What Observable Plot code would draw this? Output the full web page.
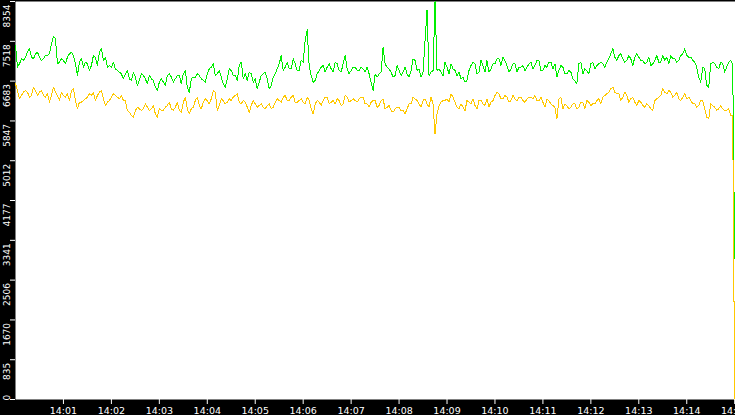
<!DOCTYPE html>
<html><head><meta charset="utf-8">
<script src="https://cdn.jsdelivr.net/npm/d3@7"></script>
<script src="https://cdn.jsdelivr.net/npm/@observablehq/plot@0.6"></script>
<style>html,body{margin:0;padding:0;background:#000;overflow:hidden}</style>
</head><body><div id="chart"></div>
<script>
// readings every 5 s from 14:00:00 (A) and the readings 2.5 s after each of them (B)
const startTime = Date.UTC(2024, 0, 1, 14, 0, 0);
const stepSeconds = 5;

const greenA = [
  7431, 7046, 7116, 7291, 7186, 7256, 7186, 7151, 7221, 7466, 7571, 7081, 7116, 7186, 7291, 7046, 7081, 6976, 7046, 7011, 7186, 7291, 7116, 6976, 6976, 6941, 6871, 6731, 6906, 6696, 6766, 6696, 6801, 6626, 6731, 6556, 6661, 6661, 6801, 6766, 6731, 6801, 6836, 6556, 6731,
  6766, 6801, 6696, 6836, 6976, 6801, 6906, 6626, 6731, 6906, 6801, 7011, 6731, 6696, 6836, 6731, 6661, 6836, 6731, 6591, 6836, 7046, 6906, 7081, 6941, 7046, 6906, 7081, 7760, 6801, 6696, 6906, 7011, 6976, 6941, 7081, 6906, 7046, 6941, 6906, 6976, 6906, 6941, 6976, 6661,
  6835, 6835, 7395, 6975, 6870, 6800, 6905, 6870, 6835, 6905, 7115, 6940, 6870, 8179, 6870, 8354, 6940, 6800, 6975, 7045, 6905, 6870, 6765, 6695, 7010, 7045, 6870, 7010, 7115, 6940, 7045, 7150, 7185, 7010, 6940, 7045, 6975, 7010, 6975, 7080, 7010, 7115, 6905, 6975, 7080,
  7046, 6906, 6976, 6836, 6871, 6696, 7046, 6836, 6906, 7046, 6941, 7046, 7046, 7081, 7256, 7186, 7221, 7151, 7116, 7151, 7186, 7186, 7116, 7081, 7011, 7116, 7081, 7221, 7186, 7221, 7151, 7116, 7256, 7221, 7186, 7081, 6766, 6976, 6591, 7046, 7046, 6941, 7046, 6976, 7116
];
const greenB = [
  6976, 7151, 7186, 7361, 7151, 7291, 7116, 7221, 7256, 7620, 7046, 7151, 7046, 7256, 7221, 6801, 7151, 7081, 6906, 7221, 7011, 7361, 7186, 7011, 7081, 6906, 6836, 6836, 6731, 6871, 6591, 6836, 6731, 6801, 6696, 6486, 6731, 6591, 6836, 6661, 6801, 6626, 6906, 6451, 6766,
  6836, 6731, 6661, 6941, 7046, 6836, 6766, 6556, 6941, 6801, 6696, 7081, 6836, 6871, 6661, 6521, 6801, 6871, 6521, 6766, 6941, 7221, 6976, 6941, 7151, 6906, 7116, 7536, 7011, 6661, 6836, 6976, 6871, 7046, 6871, 7046, 6871, 7221, 6836, 6976, 6906, 6976, 6871, 6836, 6486,
  6765, 6870, 7045, 6940, 6765, 7010, 6800, 6975, 6765, 7150, 6905, 6765, 7535, 6800, 6905, 6905, 6870, 7080, 6835, 6940, 6800, 6730, 6660, 6905, 7080, 6835, 7115, 6870, 6870, 7045, 7150, 7010, 7115, 6870, 7045, 6870, 6975, 6905, 7045, 6940, 7115, 6905, 7010, 7080, 6940,
  6766, 7011, 6836, 6906, 6731, 6626, 7081, 6941, 6836, 7081, 7011, 7081, 6976, 7151, 7361, 7116, 7256, 7081, 7221, 7011, 7256, 7116, 7046, 7186, 7046, 7221, 7081, 7116, 7046, 7151, 7081, 7221, 7361, 7186, 7116, 6976, 6661, 6941, 6556, 7081, 6976, 7081, 6871, 7081, 7046
];
const orangeA = [
  6626, 6311, 6451, 6451, 6381, 6486, 6451, 6381, 6416, 6381, 6451, 6276, 6381, 6416, 6486, 6276, 6241, 6276, 6346, 6381, 6276, 6451, 6311, 6241, 6346, 6381, 6311, 6276, 6066, 5961, 6066, 6101, 6101, 6136, 6101, 5996, 6101, 6066, 6171, 6101, 6136, 6066, 6241, 6101, 6101,
  6276, 6171, 6241, 6276, 6311, 6451, 6171, 6276, 6241, 6276, 6381, 6241, 6276, 6136, 6171, 6206, 6171, 6136, 6171, 6101, 6241, 6276, 6346, 6276, 6346, 6241, 6276, 6241, 6346, 6101, 6206, 6241, 6276, 6346, 6241, 6206, 6276, 6206, 6346, 6276, 6276, 6311, 6346, 6206, 6241,
  6275, 6170, 6310, 6135, 6065, 6100, 6135, 6065, 6100, 6205, 6310, 6205, 6275, 6205, 6345, 5575, 6170, 6275, 6310, 6415, 6240, 6100, 6135, 6275, 6205, 6170, 6275, 6205, 6310, 6240, 6380, 6415, 6310, 6345, 6275, 6310, 6345, 6275, 6310, 6345, 6380, 6275, 6240, 6310, 6205,
  6136, 6311, 6101, 6171, 6136, 6206, 6136, 6241, 6276, 6171, 6206, 6311, 6346, 6416, 6521, 6451, 6416, 6346, 6381, 6311, 6241, 6276, 6171, 6206, 6101, 6276, 6346, 6521, 6416, 6451, 6381, 6311, 6346, 6311, 6276, 6206, 6171, 6276, 5926, 6206, 6136, 6101, 6101, 6066, 5961
];
const orangeB = [
  6486, 6381, 6486, 6346, 6556, 6381, 6486, 6346, 6241, 6556, 6381, 6451, 6346, 6276, 6521, 6101, 6241, 6311, 6416, 6451, 6381, 6486, 6171, 6276, 6416, 6346, 6381, 6276, 6031, 5926, 6136, 6066, 6206, 6066, 6171, 5926, 6066, 6136, 6241, 6066, 6241, 6031, 6346, 5996, 6136,
  6346, 6101, 6311, 6206, 6486, 6066, 6311, 6206, 6311, 6346, 6416, 6206, 6241, 6031, 6276, 6136, 6206, 6101, 6206, 6136, 6311, 6241, 6381, 6276, 6381, 6241, 6311, 6206, 6276, 5996, 6276, 6171, 6346, 6206, 6276, 6311, 6171, 6381, 6241, 6311, 6241, 6346, 6206, 6136, 6276,
  6135, 6275, 6100, 6170, 6030, 6135, 6065, 5995, 6205, 6345, 6275, 6135, 6310, 6135, 6205, 5995, 6240, 6275, 6240, 6345, 6135, 6205, 6065, 6240, 6310, 6100, 6275, 6170, 6135, 6275, 6450, 6310, 6380, 6240, 6380, 6275, 6345, 6240, 6345, 6310, 6275, 6345, 6135, 6275, 6170,
  5891, 6346, 6206, 6101, 6206, 6101, 6241, 6101, 6241, 6206, 6276, 6206, 6381, 6451, 6556, 6416, 6276, 6451, 6241, 6346, 6171, 6241, 6136, 6171, 6066, 6311, 6381, 6451, 6486, 6346, 6451, 6276, 6416, 6346, 6206, 6136, 6276, 6101, 5891, 6171, 6066, 6171, 6066, 6101, 5961
];
// last reading at 14:15:00
const greenLast = 2950;
const orangeLast = 0;

const yTickValues = [0, 835, 1670, 2506, 3341, 4177, 5012, 5847, 6683, 7518, 8354];
const xTickMinutes = [1, 2, 3, 4, 5, 6, 7, 8, 9, 10, 11, 12, 13, 14, 15];

const data = [];
greenA.forEach((g, i) => {
  data.push({t: new Date(startTime + i * stepSeconds * 1000), green: g, orange: orangeA[i]});
  data.push({t: new Date(startTime + (i + 0.5) * stepSeconds * 1000), green: greenB[i], orange: orangeB[i]});
});
data.push({t: new Date(startTime + 900000), green: greenLast, orange: orangeLast});

const xTicks = xTickMinutes.map(m => new Date(startTime + m * 60000));
const fmt = d3.utcFormat("%H:%M");

const plot = Plot.plot({
  width: 735, height: 415,
  marginLeft: 15, marginRight: 0, marginTop: 1, marginBottom: 16,
  style: {background: "#000", color: "white", fontFamily: "DejaVu Sans", fontSize: "9px"},
  x: {type: "utc", domain: [new Date(startTime), new Date(startTime + 901000)]},
  y: {domain: [0, 8354]},
  marks: [
    Plot.frame({fill: "white", stroke: "none"}),
    Plot.lineY(data, {x: "t", y: "green", stroke: "#00ee00", strokeWidth: 1, shapeRendering: "crispEdges"}),
    Plot.lineY(data, {x: "t", y: "orange", stroke: "#ffc800", strokeWidth: 1, shapeRendering: "crispEdges"}),
    Plot.axisX({ticks: xTicks, tickFormat: d => fmt(d), tickSize: 5, tickPadding: 3, label: null, fontSize: 9.5}),
    Plot.axisY({ticks: yTickValues, tickSize: 5, tickFormat: () => "", label: null}),
    Plot.text(yTickValues.slice(1), {y: d => d, text: d => String(d), rotate: -90, frameAnchor: "left", textAnchor: "end", dx: -8.5, dy: 3, fill: "white", fontSize: 9}),
    Plot.text(yTickValues.slice(0, 1), {y: d => d, text: d => String(d), rotate: -90, frameAnchor: "left", textAnchor: "start", dx: -8.5, dy: 1, fill: "white", fontSize: 9})
  ]
});
document.getElementById("chart").appendChild(plot);
</script>
</body></html>
